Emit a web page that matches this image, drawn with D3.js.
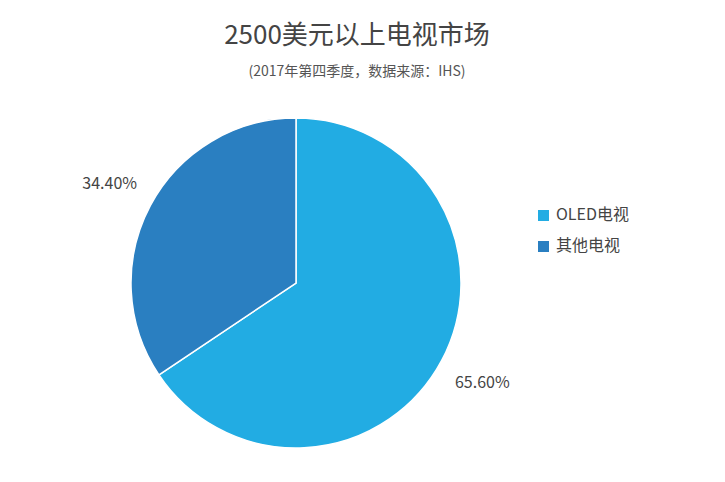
<!DOCTYPE html>
<html><head><meta charset="utf-8">
<script src="https://cdn.jsdelivr.net/npm/d3@7"></script>
<style>body{margin:0;background:#fff;font-family:"Noto Sans CJK SC","Noto Sans",sans-serif;}</style>
</head><body><svg id="chart"></svg>
<script>
// 数据
const categories = ["OLED电视", "其他电视"];
const shares = [65.6, 34.4];
const labels = ["65.60%", "34.40%"];
const colors = ["#22ace3", "#2a7fc1"];

const W = 725, H = 482;
const svg = d3.select("#chart").attr("width", W).attr("height", H);

svg.append("text").attr("x", 357).attr("y", 44).attr("text-anchor", "middle")
  .attr("font-size", 26).attr("fill", "#444").text("2500美元以上电视市场");
svg.append("text").attr("x", 357).attr("y", 76).attr("text-anchor", "middle")
  .attr("font-size", 14).attr("fill", "#555").text("(2017年第四季度，数据来源：IHS)");

const cx = 296, cy = 283, r = 165;
const pie = d3.pie().sort(null).value(d => d);
const arc = d3.arc().innerRadius(0).outerRadius(r);
const outer = d3.arc().innerRadius(r * 1.28).outerRadius(r * 1.28);
const arcs = pie(shares);

const g = svg.append("g").attr("transform", `translate(${cx},${cy})`);
g.selectAll("path").data(arcs).join("path")
  .attr("d", arc).attr("fill", (d, i) => colors[i])
  .attr("stroke", "#fff").attr("stroke-width", 1.5);

// 标签
g.selectAll("text.lbl").data(arcs).join("text").attr("class", "lbl")
  .attr("transform", d => {
    const [x, y] = outer.centroid(d);
    return `translate(${x},${y})`;
  })
  .attr("text-anchor", "middle").attr("dy", "0.35em")
  .attr("font-size", 16).attr("fill", "#444")
  .text((d, i) => labels[i]);

// 图例
const lg = svg.append("g").attr("transform", "translate(538,210)");
categories.forEach((c, i) => {
  lg.append("rect").attr("x", 0).attr("y", i * 31).attr("width", 11).attr("height", 11).attr("fill", colors[i]);
  lg.append("text").attr("x", 18).attr("y", i * 31 + 10).attr("font-size", 16).attr("fill", "#444").text(c);
});
</script></body></html>
